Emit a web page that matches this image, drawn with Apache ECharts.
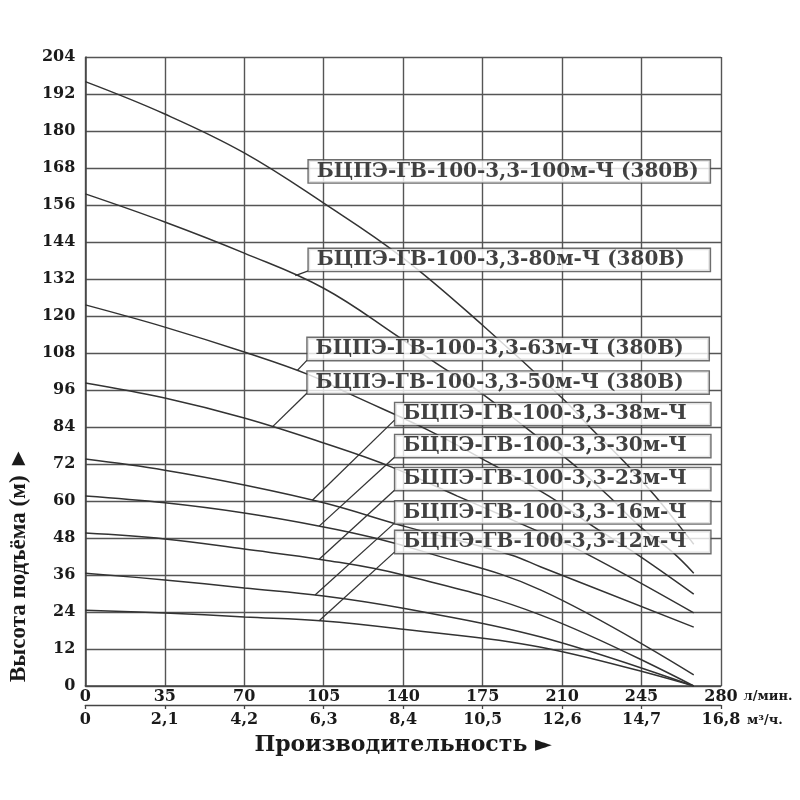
<!DOCTYPE html>
<html><head><meta charset="utf-8">
<script src="https://cdn.jsdelivr.net/npm/echarts@6/dist/echarts.min.js"></script>
<style>html,body{margin:0;padding:0;background:#fff}#c{width:800px;height:800px}</style>
</head><body><div id="c"></div>
<script>
// ---- axis ticks ----
const flowTicks = [0, 35, 70, 105, 140, 175, 210, 245, 280];          // л/мин.
const m3Ticks   = ['0', '2,1', '4,2', '6,3', '8,4', '10,5', '12,6', '14,7', '16,8']; // м³/ч.

// ---- model labels ----
const labelTexts = [
  'БЦПЭ-ГВ-100-3,3-100м-Ч (380В)',
  'БЦПЭ-ГВ-100-3,3-80м-Ч (380В)',
  'БЦПЭ-ГВ-100-3,3-63м-Ч (380В)',
  'БЦПЭ-ГВ-100-3,3-50м-Ч (380В)',
  'БЦПЭ-ГВ-100-3,3-38м-Ч',
  'БЦПЭ-ГВ-100-3,3-30м-Ч',
  'БЦПЭ-ГВ-100-3,3-23м-Ч',
  'БЦПЭ-ГВ-100-3,3-16м-Ч',
  'БЦПЭ-ГВ-100-3,3-12м-Ч'
];

// ---- pump curves: flow (л/мин.) and head (м) ----
const q100 = [0, 35, 70, 105, 140, 175, 210, 223.5, 237.8, 251, 262, 268];
const h100 = [196, 185.5, 172.9, 156.6, 138.8, 117, 93.4, 83, 72.4, 61.6, 51.6, 46];
const q80  = [0, 35, 70, 105, 138, 152.5, 174.4, 195.4, 213.8, 230.5, 244.5, 258.5, 268];
const h80  = [159.6, 150.5, 140.4, 129, 113.2, 105.7, 95, 83, 72.6, 61.6, 51.6, 43.5, 36.6];
const q63  = [0, 35, 70, 98.6, 117.4, 151, 177.5, 204.2, 224, 241.4, 268];
const h63  = [123.6, 116.4, 108.3, 100.9, 94.4, 83, 72.6, 61.6, 51.6, 43.5, 29.8];
const q50  = [0, 35, 70, 105, 135, 163.9, 195, 219.1, 268];
const h50  = [98.3, 93.4, 86.9, 78.8, 71, 61.6, 51.6, 43.5, 23.7];
const q38  = [0, 35, 70, 105, 141.5, 187.5, 200.7, 268];
const h38  = [73.6, 70, 65.2, 59.4, 51.6, 42.5, 38.6, 19.1];
const q30  = [0, 35, 70, 105, 127.5, 149.4, 200.7, 268];
const h30  = [61.6, 59.4, 56.1, 51.6, 48, 43.5, 31.1, 3.6];
const q23  = [0, 35, 70, 105, 140, 200.7, 268];
const h23  = [49.6, 47.7, 44.4, 40.9, 36, 23, 0];
const q16  = [0, 35, 70, 105, 140, 200.7, 268];
const h16  = [36.6, 34.4, 31.8, 29.2, 25.2, 15.9, 0];
const q12  = [0, 35, 70, 105, 140, 200.7, 268];
const h12  = [24.6, 23.7, 22.4, 21.1, 18.4, 12.6, 0];

const curves = [[q100,h100],[q80,h80],[q63,h63],[q50,h50],[q38,h38],[q30,h30],[q23,h23],[q16,h16],[q12,h12]];

// ---- annotation anchors (data units): label box left/centre, leader ends ----
const labelAnchorQ = [98.2, 98.2, 97.7, 97.7, 136.3, 136.3, 136.3, 136.3, 136.3];
const labelAnchorH = [166.9, 138.2, 109.3, 98.4, 88.2, 77.8, 67.1, 56.3, 46.7];
const leaderBoxH   = [null, 134.6, 105.7, 95.0, 86.3, 74.3, 63.6, 52.9, 43.5];
const leaderCurveQ = [null, 92.5, 93.3, 82.4, 100, 103, 103, 101.2, 103];

function interp(qs, hs, q) {
  for (let i = 1; i < qs.length; i++) {
    if (q <= qs[i]) { const t = (q - qs[i-1]) / (qs[i] - qs[i-1]); return hs[i-1] + t * (hs[i] - hs[i-1]); }
  }
  return hs[hs.length - 1];
}

const SERIF = 'DejaVu Serif';
const TXT = '#1a1a1a';
const GRIDC = '#555';
const CURVEC = '#333';

const series = [];
curves.forEach(([qs, hs]) => {
  series.push({
    type: 'line', xAxisIndex: 0, yAxisIndex: 0,
    data: qs.map((q, j) => [q, hs[j]]),
    smooth: 0.4, symbol: 'none',
    lineStyle: { color: CURVEC, width: 1.5 }, z: 3, silent: true
  });
});
leaderCurveQ.forEach((q, i) => {
  if (q == null) return;
  const [qs, hs] = curves[i];
  series.push({
    type: 'line', xAxisIndex: 0, yAxisIndex: 0,
    data: [[q, interp(qs, hs, q)], [labelAnchorQ[i], leaderBoxH[i]]],
    symbol: 'none', lineStyle: { color: CURVEC, width: 1.3 }, z: 4, silent: true
  });
});
series.push({
  type: 'scatter', xAxisIndex: 0, yAxisIndex: 0,
  symbolSize: 1, itemStyle: { color: 'rgba(0,0,0,0)' }, z: 10, silent: true,
  data: labelAnchorQ.map((q, i) => ({
    value: [q, labelAnchorH[i]],
    label: { formatter: labelTexts[i], width: i < 4 ? 385 : 299 }
  })),
  label: {
    show: true, position: 'right', distance: 0, align: 'left',
    fontFamily: SERIF, fontWeight: 'bold', fontSize: 20, lineHeight: 19, color: '#111',
    backgroundColor: '#fff', borderColor: '#4a4a4a', borderWidth: 1.4, padding: [2, 8, 1, 8]
  }
});

const option = {
  animation: false,
  backgroundColor: '#fff',
  grid: { left: 82, right: 79, top: 57, bottom: 114 },
  xAxis: [
    {
      type: 'value', min: 0, max: 280, interval: 35, position: 'bottom',
      axisLine: { show: true, lineStyle: { color: '#444', width: 1.5 } },
      axisTick: { show: false },
      axisLabel: { margin: 3, fontFamily: SERIF, fontWeight: 'bold', fontSize: 16, color: TXT },
      splitLine: { show: true, lineStyle: { color: GRIDC, width: 1.4 } },
      name: 'л/мин.', nameLocation: 'end', nameGap: 21,
      nameTextStyle: { fontFamily: SERIF, fontWeight: 'bold', fontSize: 13, color: TXT, verticalAlign: 'top', padding: [4, 0, 0, 0] }
    },
    {
      type: 'value', min: 0, max: 280, interval: 35, position: 'bottom', offset: 19,
      axisLine: { show: true, lineStyle: { color: '#444', width: 1.3 } },
      axisTick: { show: true, length: 4, lineStyle: { color: '#444', width: 1.3 } },
      axisLabel: { margin: 7, fontFamily: SERIF, fontWeight: 'bold', fontSize: 16, color: TXT,
        formatter: v => m3Ticks[flowTicks.indexOf(v)] },
      splitLine: { show: false },
      name: 'Производительность ►', nameLocation: 'middle', nameGap: 29,
      nameTextStyle: { fontFamily: SERIF, fontWeight: 'bold', fontSize: 22, color: TXT }
    },
    {
      type: 'value', min: 0, max: 280, position: 'bottom', offset: 19,
      axisLine: { show: false }, axisTick: { show: false }, axisLabel: { show: false }, splitLine: { show: false },
      name: 'м³/ч.', nameLocation: 'end', nameGap: 26,
      nameTextStyle: { fontFamily: SERIF, fontWeight: 'bold', fontSize: 13, color: TXT, verticalAlign: 'top', padding: [9, 0, 0, 0] }
    }
  ],
  yAxis: {
    type: 'value', min: 0, max: 204, interval: 12,
    axisLine: { show: true, lineStyle: { color: '#444', width: 1.5 } },
    axisTick: { show: false },
    axisLabel: { margin: 10, fontFamily: SERIF, fontWeight: 'bold', fontSize: 16, color: TXT },
    splitLine: { show: true, lineStyle: { color: GRIDC, width: 1.4 } },
    name: 'Высота подъёма (м) ►', nameLocation: 'middle', nameRotate: 90, nameGap: 41,
    nameTextStyle: { fontFamily: 'Liberation Serif', fontWeight: 'bold', fontSize: 23, color: TXT, padding: [0, 386, 0, 0] }
  },
  series
};

const chart = echarts.init(document.getElementById('c'));
chart.setOption(option);
</script>
</body></html>
